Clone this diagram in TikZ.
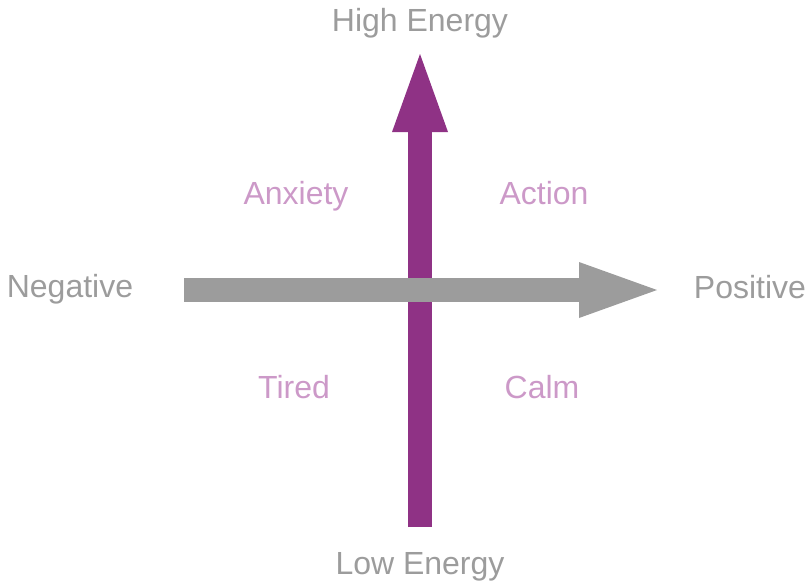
\documentclass[tikz,border=0pt]{standalone}
\usepackage{fontspec}
\setmainfont{Liberation Sans}
\usetikzlibrary{arrows.meta}
\definecolor{moodaxisA}{RGB}{156,156,156}
\definecolor{moodaxisB}{RGB}{143,50,133}
\definecolor{moodlabel}{RGB}{204,153,200}
\begin{document}
\begin{tikzpicture}[x=1pt,y=-1pt,
    axishead/.style={-{Triangle[length=78pt 0 0,width=56pt 0 0,line width=0pt]}},
    axislabel/.style={anchor=base,text=moodaxisA,inner sep=0pt,font=\fontsize{32}{38}\selectfont},
    quadlabel/.style={anchor=base,text=moodlabel,inner sep=0pt,font=\fontsize{32}{38}\selectfont}]
    \useasboundingbox (0,0) rectangle (811,584);
    % axis ends
    \coordinate (lowE) at (420,527);
    \coordinate (highE) at (420,54);
    \coordinate (negE) at (184,290);
    \coordinate (posE) at (657,290);
    \draw[moodaxisB,line width=24pt,axishead] (lowE) -- (highE);
    \draw[moodaxisA,line width=24pt,axishead] (negE) -- (posE);
    % labels
    \node[axislabel] (high) at (420,31) {High Energy};
    \node[axislabel] (low) at (420,574) {Low Energy};
    \node[axislabel] (neg) at (70,297) {Negative};
    \node[axislabel] (pos) at (750,298) {Positive};
    \node[quadlabel] (anxiety) at (296,204) {Anxiety};
    \node[quadlabel] (action) at (544,204) {Action};
    \node[quadlabel] (tired) at (294,398) {Tired};
    \node[quadlabel] (calm) at (542,398) {Calm};
\end{tikzpicture}
\end{document}
